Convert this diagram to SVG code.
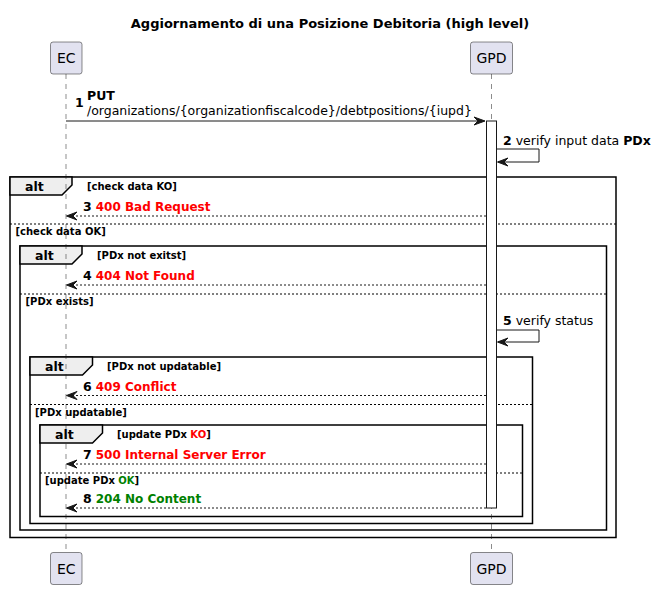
<svg xmlns="http://www.w3.org/2000/svg" width="655" height="589" viewBox="0 0 655 589">
<style>
text{font-family:"DejaVu Sans","Liberation Sans",Arial,sans-serif;fill:#000}
.title{font-size:13px;font-weight:bold}
.part rect{fill:#E2E2F0;stroke:#181818;stroke-width:0.5}
.part text{font-size:14px;text-anchor:middle}
.life{stroke:#181818;stroke-width:0.5;stroke-dasharray:5,5}
.frame{fill:none;stroke:#000;stroke-width:1.5}
.tab{fill:#EEEEEE;stroke:#000;stroke-width:1.5}
.alt{font-size:12.5px;font-weight:bold}
.guard{font-size:10px;font-weight:bold}
.sep{stroke:#000;stroke-width:1;stroke-dasharray:2,2}
.msg{stroke:#181818;stroke-width:1;fill:none}
.ret{stroke:#181818;stroke-width:1;stroke-dasharray:2,2;fill:none}
.head{fill:#181818;stroke:#181818;stroke-width:1}
.lbl{font-size:12.5px}
.b{font-weight:bold}
.red{fill:#FF0000;font-weight:bold;font-size:12px}
.green{fill:#008000;font-weight:bold;font-size:12px}
.act{fill:#FFFFFF;stroke:#181818;stroke-width:1}
</style>
<text class="title" x="330" y="28" text-anchor="middle">Aggiornamento di una Posizione Debitoria (high level)</text>

<g id="frames">
  <g id="alt1">
    <rect class="frame" x="10" y="177" width="606" height="360.5"/>
    <polygon class="tab" points="10,177 72,177 72,185 62,195 10,195"/>
    <text class="alt" x="25" y="190.5">alt</text>
    <text class="guard" x="87" y="190">[check data KO]</text>
    <line class="sep" x1="10" y1="224" x2="616" y2="224"/>
    <text class="guard" x="15.5" y="235">[check data OK]</text>
  </g>
  <g id="alt2">
    <rect class="frame" x="20" y="246" width="586.5" height="284"/>
    <polygon class="tab" points="20,246 82,246 82,254 72,264 20,264"/>
    <text class="alt" x="35" y="259.5">alt</text>
    <text class="guard" x="97" y="258.5">[PDx not exitst]</text>
    <line class="sep" x1="20" y1="294" x2="606.5" y2="294"/>
    <text class="guard" x="25.5" y="305">[PDx exists]</text>
  </g>
  <g id="alt3">
    <rect class="frame" x="30" y="357" width="502.5" height="166.5"/>
    <polygon class="tab" points="30,357 92.5,357 92.5,365 82.5,375 30,375"/>
    <text class="alt" x="45" y="370.5">alt</text>
    <text class="guard" x="107" y="370">[PDx not updatable]</text>
    <line class="sep" x1="30" y1="404.5" x2="532.5" y2="404.5"/>
    <text class="guard" x="35" y="416">[PDx updatable]</text>
  </g>
  <g id="alt4">
    <rect class="frame" x="40" y="425" width="482.5" height="91.5"/>
    <polygon class="tab" points="40,425 102.5,425 102.5,433 92.5,443 40,443"/>
    <text class="alt" x="55" y="438.5">alt</text>
    <text class="guard" x="117" y="438">[update PDx <tspan fill="#FF0000">KO</tspan>]</text>
    <line class="sep" x1="40" y1="473" x2="522.5" y2="473"/>
    <text class="guard" x="45" y="484">[update PDx <tspan fill="#008000">OK</tspan>]</text>
  </g>
</g>

<g id="lifelines">
  <line class="life" x1="66" y1="74" x2="66" y2="553"/>
  <line class="life" x1="491.5" y1="74" x2="491.5" y2="553"/>
</g>

<g id="EC" class="part">
  <rect x="50.5" y="42" width="31.5" height="32" rx="2.5"/>
  <text x="66.2" y="63">EC</text>
  <rect x="50.5" y="552.5" width="31.5" height="32" rx="2.5"/>
  <text x="66.2" y="573.5">EC</text>
</g>
<g id="GPD" class="part">
  <rect x="470.5" y="42" width="42" height="32" rx="2.5"/>
  <text x="491.5" y="63">GPD</text>
  <rect x="470.5" y="552.5" width="42" height="32" rx="2.5"/>
  <text x="491.5" y="573.5">GPD</text>
</g>

<g id="activation">
  <rect class="act" x="486.5" y="121" width="10" height="387"/>
</g>

<g id="connectors">
  <g id="m1">
    <line class="msg" x1="66" y1="121" x2="484" y2="121"/>
    <polygon class="head" points="474,117 485,121 474,125 478,121"/>
    <text class="lbl b" x="75" y="107">1</text>
    <text class="lbl b" x="87" y="100">PUT</text>
    <text class="lbl" x="87" y="115">/organizations/{organizationfiscalcode}/debtpositions/{iupd}</text>
  </g>
  <g id="m2">
    <polyline class="msg" points="496.5,149 539,149 539,162 498,162"/>
    <polygon class="head" points="508,158 497.5,162 508,166 504,162"/>
    <text class="lbl" x="503" y="145"><tspan class="b">2</tspan> verify input data <tspan class="b">PDx</tspan></text>
  </g>
  <g id="m3">
    <line class="ret" x1="486" y1="216" x2="67" y2="216"/>
    <polygon class="head" points="77,212 66.5,216 77,220 73,216"/>
    <text class="lbl" x="83" y="211"><tspan class="b">3</tspan> <tspan class="red">400 Bad Request</tspan></text>
  </g>
  <g id="m4">
    <line class="ret" x1="486" y1="285" x2="67" y2="285"/>
    <polygon class="head" points="77,281 66.5,285 77,289 73,285"/>
    <text class="lbl" x="83" y="280"><tspan class="b">4</tspan> <tspan class="red">404 Not Found</tspan></text>
  </g>
  <g id="m5">
    <polyline class="msg" points="496.5,330 539,330 539,342 498,342"/>
    <polygon class="head" points="508,338 497.5,342 508,346 504,342"/>
    <text class="lbl" x="503" y="325"><tspan class="b">5</tspan> verify status</text>
  </g>
  <g id="m6">
    <line class="ret" x1="486" y1="395.5" x2="67" y2="395.5"/>
    <polygon class="head" points="77,391.5 66.5,395.5 77,399.5 73,395.5"/>
    <text class="lbl" x="83" y="390.5"><tspan class="b">6</tspan> <tspan class="red">409 Conflict</tspan></text>
  </g>
  <g id="m7">
    <line class="ret" x1="486" y1="464" x2="67" y2="464"/>
    <polygon class="head" points="77,460 66.5,464 77,468 73,464"/>
    <text class="lbl" x="83" y="459"><tspan class="b">7</tspan> <tspan class="red">500 Internal Server Error</tspan></text>
  </g>
  <g id="m8">
    <line class="ret" x1="486" y1="508" x2="67" y2="508"/>
    <polygon class="head" points="77,504 66.5,508 77,512 73,508"/>
    <text class="lbl" x="83" y="503"><tspan class="b">8</tspan> <tspan class="green">204 No Content</tspan></text>
  </g>
</g>
</svg>
